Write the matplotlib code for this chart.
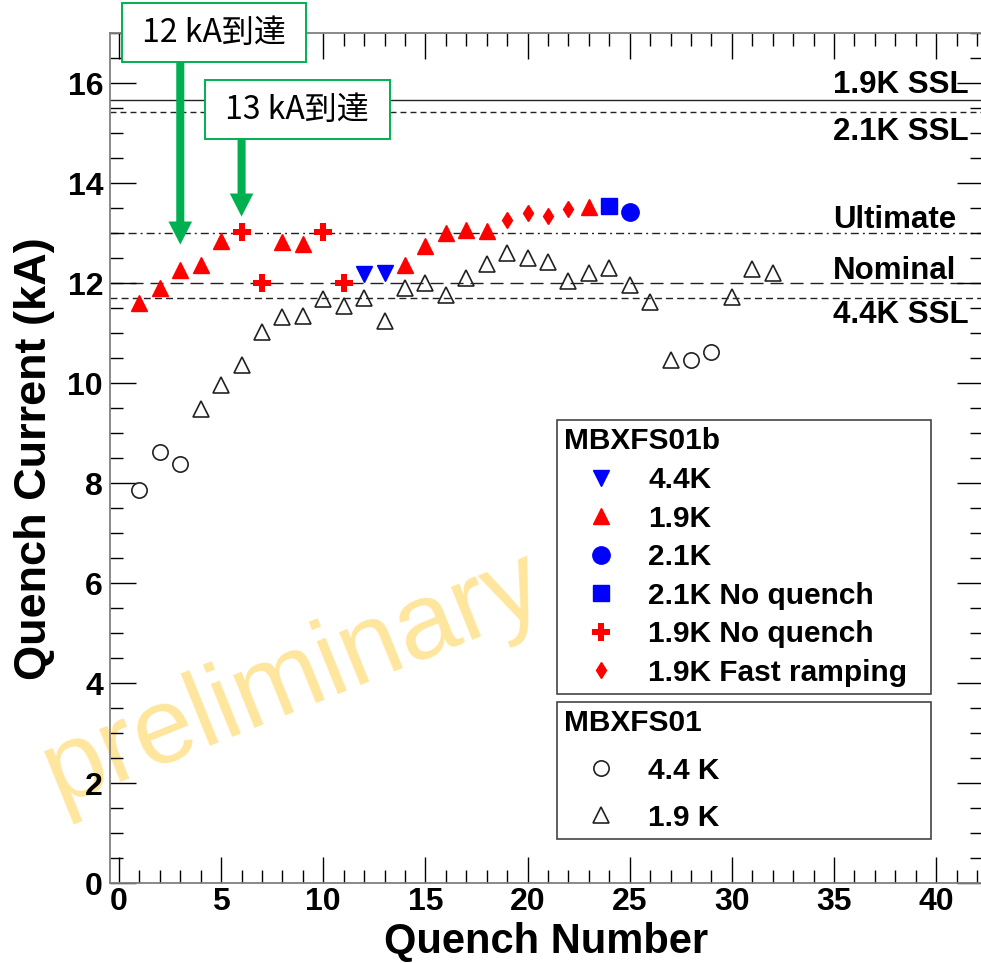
import matplotlib
matplotlib.use('Agg')
import matplotlib.pyplot as plt
from matplotlib.ticker import MultipleLocator

plt.rcParams['font.family'] = ['Liberation Sans', 'DejaVu Sans']

# MBXFS01b training history
q44_b = [12, 13]
i44_b = [12.18, 12.20]
q19_b = [1, 2, 3, 4, 5, 8, 9, 14, 15, 16, 17, 18, 23]
i19_b = [11.61, 11.91, 12.26, 12.37, 12.85, 12.82, 12.78, 12.37, 12.75, 13.01, 13.07, 13.05, 13.53]
q21_b = [25]
i21_b = [13.43]
q21_nq = [24]
i21_nq = [13.55]
q19_nq = [6, 7, 10, 11]
i19_nq = [13.03, 12.01, 13.03, 12.00]
q19_fast = [19, 20, 21, 22]
i19_fast = [13.26, 13.41, 13.35, 13.49]

# MBXFS01 training history
q44_a = [1, 2, 3, 28, 29]
i44_a = [7.87, 8.63, 8.39, 10.47, 10.63]
q19_a = [4, 5, 6, 7, 8, 9, 10, 11, 12, 13, 14, 15, 16, 17, 18, 19, 20, 21, 22,
         23, 24, 25, 26, 27, 30, 31, 32]
i19_a = [9.48, 9.96, 10.37, 11.03, 11.33, 11.35, 11.68, 11.55, 11.71, 11.25, 11.91,
         12.01, 11.77, 12.11, 12.39, 12.60, 12.50, 12.43, 12.05, 12.21, 12.30, 11.96,
         11.63, 10.46, 11.73, 12.29, 12.21]

# reference current levels (kA)
ref_names = ['1.9K SSL', '2.1K SSL', 'Ultimate', 'Nominal', '4.4K SSL']
ref_levels = [15.67, 15.43, 13.0, 12.0, 11.71]
ref_text_y = [15.81, 14.87, 13.10, 12.09, 11.21]
ref_styles = ['-', (0, (4.3, 2.9)), (0, (5.8, 2.9, 1.4, 2.9)), (0, (9.4, 5.0)), (0, (5.0, 3.0))]

# milestones
note_text = ['12 kA到達', '13 kA到達']
note_q = [3, 6]
note_tip = [12.77, 13.33]
note_tail = [16.43, 14.89]
note_box_xy = [(4.65, 17.006), (8.73, 15.47)]

RED = '#FF0000'
BLUE = '#0000FF'
GREEN = '#00B050'

fig = plt.figure(figsize=(9.81, 9.63), dpi=100)
W, H = 981, 963
ax = fig.add_axes([110 / W, (H - 883.3) / H, (983 - 110) / W, (883.3 - 33) / H])

ax.set_xlim(-0.44, 42.29)
ax.set_ylim(0, 17.0)

# watermark
ax.text(58 / W, 1 - 805 / H, 'preliminary', transform=fig.transFigure,
        fontsize=78, color='#FFE69E', rotation=22, rotation_mode='anchor',
        ha='left', va='baseline', zorder=0)

for lvl, name, ty, ls in zip(ref_levels, ref_names, ref_text_y, ref_styles):
    ax.axhline(lvl, color='#222222', lw=1.0, ls=ls, zorder=1)
    ax.text(34.95, ty, name, fontsize=22.5, fontweight='bold', ha='left', va='baseline', zorder=4)

# MBXFS01 (open markers)
h44a, = ax.plot(q44_a, i44_a, 'o', ls='none', ms=11, mfc='none', mec='#222222', mew=1.2, label='4.4 K', zorder=3)
h19a, = ax.plot(q19_a, i19_a, '^', ls='none', ms=11.5, mfc='none', mec='#222222', mew=1.2, label='1.9 K', zorder=3)

# MBXFS01b (filled markers)
h44b, = ax.plot(q44_b, i44_b, 'v', ls='none', ms=12, color=BLUE, label='4.4K', zorder=4)
h19b, = ax.plot(q19_b, i19_b, '^', ls='none', ms=12, color=RED, label='1.9K', zorder=4)
h21b, = ax.plot(q21_b, i21_b, 'o', ls='none', ms=12.5, color=BLUE, label='2.1K', zorder=4)
h21nq, = ax.plot(q21_nq, i21_nq, 's', ls='none', ms=12, color=BLUE, label='2.1K No quench', zorder=4)
h19nq, = ax.plot(q19_nq, i19_nq, 'P', ls='none', ms=13.5, color=RED, mew=0, label='1.9K No quench', zorder=4)
h19f, = ax.plot(q19_fast, i19_fast, 'd', ls='none', ms=8.4, color=RED, label='1.9K Fast ramping', zorder=4)

# milestone arrows and boxes
for txt, q, tip, tail, bxy in zip(note_text, note_q, note_tip, note_tail, note_box_xy):
    ax.annotate('', xy=(q, tip), xytext=(q, tail), annotation_clip=False,
                arrowprops=dict(arrowstyle='simple,head_length=1.66,head_width=1.7,tail_width=0.58',
                                mutation_scale=10, color=GREEN, shrinkA=0, shrinkB=0, lw=0),
                zorder=6)
    ax.text(bxy[0], bxy[1], ' ' + txt + ' ', fontsize=23, ha='center', va='center',
            family=['Noto Sans CJK JP', 'DejaVu Sans'], clip_on=False, zorder=7,
            bbox=dict(boxstyle='square,pad=0.42', fc='white', ec=GREEN, lw=1.4))

legend_kw = dict(loc='upper left', bbox_transform=fig.transFigure, mode='expand',
                 alignment='left', fancybox=False, framealpha=1, edgecolor='#444444',
                 prop=dict(weight='bold', size=21.5),
                 title_fontproperties=dict(weight='bold', size=21.5),
                 borderaxespad=0, numpoints=1, handlelength=2.45, handletextpad=0.35,
                 borderpad=0.25)
leg1 = ax.legend(handles=[h44b, h19b, h21b, h21nq, h19nq, h19f], title='MBXFS01b',
                 bbox_to_anchor=(557 / W, 1 - 420 / H, 374 / W, 0), labelspacing=0.354,
                 **legend_kw)
leg1.get_frame().set_linewidth(1.2)
leg1.set_zorder(8)
ax.add_artist(leg1)
leg2 = ax.legend(handles=[h44a, h19a], title='MBXFS01',
                 bbox_to_anchor=(557 / W, 1 - 702 / H, 374 / W, 0), labelspacing=0.64,
                 **legend_kw)
leg2.get_frame().set_linewidth(1.2)
leg2.set_zorder(8)

ax.xaxis.set_major_locator(MultipleLocator(5))
ax.xaxis.set_minor_locator(MultipleLocator(1))
ax.yaxis.set_major_locator(MultipleLocator(2))
ax.yaxis.set_minor_locator(MultipleLocator(0.5))
ax.tick_params(which='both', direction='in', top=True, right=True, color='black', width=1.0)
ax.tick_params(which='major', length=18.5)
ax.tick_params(which='minor', length=9.5)
ax.tick_params(axis='x', labelsize=23, pad=3)
ax.tick_params(axis='y', labelsize=23, pad=5)
for lbl in ax.get_xticklabels() + ax.get_yticklabels():
    lbl.set_fontweight('bold')
for sp in ax.spines.values():
    sp.set_color('#808080')
    sp.set_linewidth(1.3)

ax.set_xlabel('Quench Number', fontsize=30, fontweight='bold', va='baseline')
ax.set_ylabel('Quench Current (kA)', fontsize=32.5, fontweight='bold')
ax.xaxis.set_label_coords(0.5, -(953 - 883.3) / 850.3)
ax.yaxis.set_label_coords(-0.063, 0.5)

fig.savefig('out.png', dpi=100)
